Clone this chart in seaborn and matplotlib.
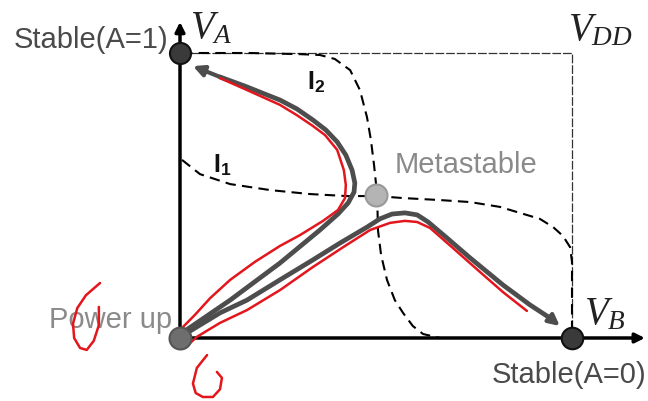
import matplotlib
matplotlib.use("Agg")
import matplotlib.pyplot as plt
import seaborn as sns
import pandas as pd

# ---------------- data (voltages as fraction of VDD) ----------------
i1_x = [0.005, 0.051, 0.128, 0.230, 0.332, 0.426, 0.503, 0.569, 0.663, 0.740, 0.816, 0.867, 0.918, 0.952, 0.977, 0.995, 1.0, 1.0, 1.0]
i1_y = [0.625, 0.575, 0.540, 0.519, 0.505, 0.498, 0.498, 0.491, 0.484, 0.477, 0.460, 0.439, 0.418, 0.389, 0.358, 0.319, 0.267, 0.133, 0.0]

i2_x = [0.005, 0.179, 0.306, 0.357, 0.395, 0.434, 0.459, 0.477, 0.487, 0.495, 0.503, 0.505, 0.513, 0.528, 0.548, 0.569, 0.594, 0.620, 0.663]
i2_y = [1.0, 1.0, 0.996, 0.993, 0.979, 0.940, 0.870, 0.775, 0.695, 0.607, 0.502, 0.379, 0.291, 0.204, 0.133, 0.088, 0.042, 0.014, 0.0]

box_x = [0.0, 1.0, 1.0]
box_y = [1.0, 1.0, 0.0]

trajA_x = [0.013, 0.128, 0.255, 0.357, 0.403, 0.429, 0.444, 0.446, 0.439, 0.423, 0.401, 0.372, 0.339, 0.298, 0.255, 0.209, 0.171, 0.102, 0.033]
trajA_y = [0.025, 0.133, 0.263, 0.379, 0.435, 0.474, 0.512, 0.544, 0.589, 0.642, 0.688, 0.730, 0.765, 0.804, 0.835, 0.860, 0.881, 0.916, 0.954]

trajB_x = [0.018, 0.102, 0.171, 0.255, 0.339, 0.408, 0.477, 0.510, 0.541, 0.574, 0.605, 0.633, 0.681, 0.740, 0.824, 0.893, 0.944, 0.969]
trajB_y = [0.018, 0.088, 0.133, 0.204, 0.274, 0.333, 0.389, 0.418, 0.435, 0.439, 0.432, 0.407, 0.351, 0.281, 0.186, 0.116, 0.070, 0.042]

red1_x = [0.0, 0.038, 0.077, 0.128, 0.191, 0.255, 0.306, 0.365, 0.403, 0.421, 0.423, 0.418, 0.401, 0.370, 0.339, 0.298, 0.255, 0.171, 0.102]
red1_y = [0.028, 0.081, 0.140, 0.204, 0.267, 0.323, 0.361, 0.411, 0.449, 0.491, 0.537, 0.589, 0.660, 0.712, 0.744, 0.782, 0.818, 0.870, 0.912]

red2_x = [0.020, 0.043, 0.102, 0.171, 0.255, 0.339, 0.421, 0.485, 0.536, 0.574, 0.605, 0.638, 0.696, 0.765, 0.824, 0.885]
red2_y = [-0.025, 0.004, 0.053, 0.098, 0.168, 0.249, 0.323, 0.379, 0.404, 0.411, 0.407, 0.386, 0.316, 0.232, 0.161, 0.095]

markA_x = [-0.204, -0.240, -0.262, -0.273, -0.270, -0.255, -0.238, -0.220, -0.207, -0.207]
markA_y = [0.193, 0.150, 0.105, 0.050, 0.000, -0.035, -0.042, -0.010, 0.045, 0.109]

markB_x = [0.069, 0.043, 0.033, 0.040, 0.058, 0.084, 0.102, 0.107, 0.094]
markB_y = [-0.060, -0.105, -0.160, -0.193, -0.207, -0.207, -0.180, -0.140, -0.119]

states = ["Stable(A=1)", "Power up", "Metastable", "Stable(A=0)"]
state_x = [0.0, 0.0, 0.5, 1.0]
state_y = [1.0, 0.0, 0.5, 0.0]

# ---------------- style ----------------
sns.set_style("white")
plt.rcParams['font.family'] = ['Liberation Sans', 'DejaVu Sans']
plt.rcParams['mathtext.fontset'] = 'custom'
plt.rcParams['mathtext.it'] = 'Liberation Serif:italic'
plt.rcParams['mathtext.rm'] = 'Liberation Serif'
plt.rcParams['mathtext.bf'] = 'Liberation Sans:bold'

fig = plt.figure(figsize=(6.48, 4.01), dpi=100)
ax = fig.add_axes([0, 0, 1, 1])
ax.set_xlim(-0.4592, 1.1939)
ax.set_ylim(-0.2211, 1.1860)
ax.axis("off")


def curve(xs, ys, **kw):
    df = pd.DataFrame({"x": xs, "y": ys})
    sns.lineplot(data=df, x="x", y="y", sort=False, estimator=None, ax=ax,
                 solid_joinstyle="round", solid_capstyle="round", **kw)


# box (VDD)
curve(box_x, box_y, color="#333333", lw=0.9, linestyle=(0, (7, 1.5)), zorder=1)
# nullclines
curve(i1_x, i1_y, color="black", lw=1.5, linestyle=(0, (5, 3)), zorder=2)
curve(i2_x, i2_y, color="black", lw=1.5, linestyle=(0, (5, 3)), zorder=2)

# axes arrows
ax.annotate("", xy=(0, 1.109), xytext=(0, 0),
            arrowprops=dict(arrowstyle="-|>", color="black", lw=2.5,
                            mutation_scale=14, shrinkA=0, shrinkB=0), zorder=3)
ax.annotate("", xy=(1.186, 0), xytext=(0, 0),
            arrowprops=dict(arrowstyle="-|>", color="black", lw=2.5,
                            mutation_scale=14, shrinkA=0, shrinkB=0), zorder=3)

# trajectories
gray = "#4d4d4d"
for tx, ty in [(trajA_x, trajA_y), (trajB_x, trajB_y)]:
    curve(tx[:-1], ty[:-1], color=gray, lw=3.4, zorder=4)
    ax.annotate("", xy=(tx[-1], ty[-1]), xytext=(tx[-2], ty[-2]),
                arrowprops=dict(arrowstyle="-|>", color=gray, lw=3.0,
                                mutation_scale=16, shrinkA=0, shrinkB=0), zorder=4)

red = "#e3161d"
for rx, ry in [(red1_x, red1_y), (red2_x, red2_y), (markA_x, markA_y), (markB_x, markB_y)]:
    curve(rx, ry, color=red, lw=1.8, zorder=5)

# state dots
dot_fc = ["#3a3a3a", "#6e6e6e", "#b4b4b4", "#3a3a3a"]
dot_ec = ["#111111", "#555555", "#999999", "#111111"]
dot_s = [230, 250, 250, 240]
for i in range(4):
    ax.scatter([state_x[i]], [state_y[i]], s=dot_s[i], c=dot_fc[i],
               edgecolors=dot_ec[i], linewidths=1.5, zorder=6)

# labels
ax.text(-0.031, 1.046, states[0], ha="right", va="center", fontsize=21, color="#4a4a4a")
ax.text(-0.020, 0.063, states[1], ha="right", va="center", fontsize=21, color="#8a8a8a")
ax.text(0.548, 0.607, states[2], ha="left", va="center", fontsize=21, color="#8a8a8a")
ax.text(0.796, -0.130, states[3], ha="left", va="center", fontsize=21, color="#4a4a4a")

ax.text(0.026, 1.085, r"$V_A$", ha="left", va="center", fontsize=28, color="#222222")
ax.text(0.990, 1.078, r"$V_{DD}$", ha="left", va="center", fontsize=28, color="#222222")
ax.text(1.030, 0.083, r"$V_B$", ha="left", va="center", fontsize=28, color="#222222")

ax.text(0.324, 0.898, r"$\mathbf{I}_\mathbf{2}$", ha="left", va="center", fontsize=18, color="#111111")
ax.text(0.084, 0.607, r"$\mathbf{I}_\mathbf{1}$", ha="left", va="center", fontsize=18, color="#111111")

fig.savefig("out.png", dpi=100)
